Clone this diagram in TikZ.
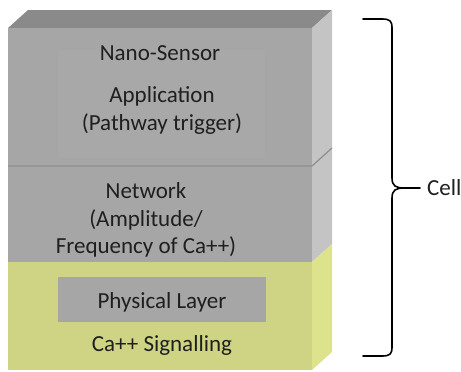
\documentclass[tikz,border=0pt]{standalone}
\usepackage{fontspec}
\setmainfont{Carlito}
\begin{document}
\begin{tikzpicture}[x=1pt,y=-1pt,
  lbl/.style={font=\fontsize{23}{28}\selectfont, text=black!88, align=center, inner sep=0pt},
  face/.style={draw=none},
  brace/.style={draw=black, line width=1.6pt, line cap=round, line join=round}]
\definecolor{frontgray}{HTML}{A6A6A6}
\definecolor{topgray}{HTML}{8A8A8A}
\definecolor{sidegray}{HTML}{C4C4C4}
\definecolor{seam}{HTML}{8E8E8E}
\definecolor{frontyellow}{HTML}{CED483}
\definecolor{sideyellow}{HTML}{DDE28C}
\definecolor{innergray}{HTML}{A8A8A8}
\useasboundingbox (0,0) rectangle (461,372);
% stack geometry: front face x 8..312, depth offset (20,-18)
% top face
\fill[face, topgray] (8,28) -- (28,10) -- (332,10) -- (312,28) -- cycle;
% gray front (application + network)
\fill[face, frontgray] (8,28) rectangle (312,262);
% faint inner panel of the upper layer
\fill[innergray] (58,50) rectangle (265,158);
% gray side
\fill[face, sidegray] (312,28) -- (332,10) -- (332,244) -- (312,262) -- cycle;
% yellow layer
\fill[face, frontyellow] (8,262) rectangle (312,370);
\fill[face, sideyellow] (312,262) -- (332,244) -- (332,352) -- (312,370) -- cycle;
% seam between application and network layers
\draw[seam, line width=1.2pt] (8,166) -- (312,166) -- (332,148);
% physical layer box
\fill[frontgray] (58,277) rectangle (266,322);

% labels
\node[lbl] (nano) at (160,53) {Nano-Sensor};
\node[lbl] (app) at (162,110) {Application\\(Pathway trigger)};
\node[lbl, font=\fontsize{23}{27.5}\selectfont] (net) at (146,220) {Network\\(Amplitude/\\Frequency of Ca++)};
\node[lbl] (phy) at (162,302) {Physical Layer};
\node[lbl] (sig) at (162,345) {Ca++ Signalling};

% brace
\coordinate (btop) at (363,19);
\coordinate (bbot) at (363,356);
\coordinate (btip) at (420,188);
\node[lbl, anchor=west] (cell) at (427,188) {Cell};
\draw[brace] (btop) -- (382,19) .. controls (390,19) and (392,21) .. (392,28)
  -- (392,178) .. controls (392,186) and (396,188) .. (404,188) -- (btip);
\draw[brace] (404,188) .. controls (396,188) and (392,190) .. (392,198)
  -- (392,347) .. controls (392,354) and (390,356) .. (382,356) -- (bbot);
\end{tikzpicture}
\end{document}
